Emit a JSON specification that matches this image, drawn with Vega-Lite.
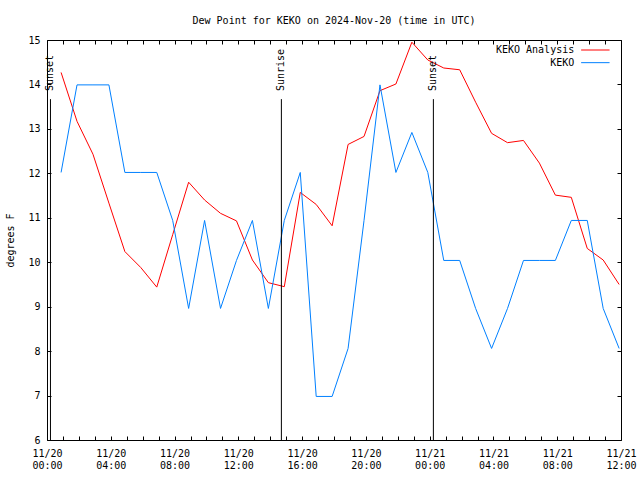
{
  "$schema": "https://vega.github.io/schema/vega-lite/v6.json",
  "width": 574,
  "height": 400,
  "autosize": {"type": "none"},
  "padding": {"left": 47, "top": 40, "right": 19, "bottom": 40},
  "background": "white",
  "title": {"text": "Dew Point for KEKO on 2024-Nov-20 (time in UTC)", "fontSize": 10, "fontWeight": "normal", "font": "DejaVu Sans Mono", "anchor": "middle", "offset": 9, "color": "black"},
  "config": {
    "font": "DejaVu Sans Mono",
    "view": {"stroke": "black", "strokeWidth": 1},
    "axis": {"grid": false, "domain": false, "labelFont": "DejaVu Sans Mono", "labelFontSize": 10, "labelColor": "black", "titleFont": "DejaVu Sans Mono", "titleFontSize": 10, "titleFontWeight": "normal", "titleColor": "black", "tickColor": "black", "tickWidth": 1, "tickOpacity": 1}
  },
  "datasets": {
    "analysis": [
      {"t": "2024-11-20T00:53:00Z", "v": 14.27},
      {"t": "2024-11-20T01:53:00Z", "v": 13.17},
      {"t": "2024-11-20T02:53:00Z", "v": 12.43},
      {"t": "2024-11-20T03:53:00Z", "v": 11.33},
      {"t": "2024-11-20T04:53:00Z", "v": 10.24},
      {"t": "2024-11-20T05:53:00Z", "v": 9.88},
      {"t": "2024-11-20T06:53:00Z", "v": 9.44},
      {"t": "2024-11-20T07:53:00Z", "v": 10.62},
      {"t": "2024-11-20T08:53:00Z", "v": 11.8},
      {"t": "2024-11-20T09:53:00Z", "v": 11.4},
      {"t": "2024-11-20T10:53:00Z", "v": 11.1},
      {"t": "2024-11-20T11:53:00Z", "v": 10.93},
      {"t": "2024-11-20T12:53:00Z", "v": 10.05},
      {"t": "2024-11-20T13:53:00Z", "v": 9.54},
      {"t": "2024-11-20T14:53:00Z", "v": 9.45},
      {"t": "2024-11-20T15:53:00Z", "v": 11.57},
      {"t": "2024-11-20T16:53:00Z", "v": 11.3},
      {"t": "2024-11-20T17:53:00Z", "v": 10.82},
      {"t": "2024-11-20T18:53:00Z", "v": 12.65},
      {"t": "2024-11-20T19:53:00Z", "v": 12.83},
      {"t": "2024-11-20T20:53:00Z", "v": 13.86},
      {"t": "2024-11-20T21:53:00Z", "v": 14.01},
      {"t": "2024-11-20T22:53:00Z", "v": 14.95},
      {"t": "2024-11-20T23:53:00Z", "v": 14.55},
      {"t": "2024-11-21T00:53:00Z", "v": 14.37},
      {"t": "2024-11-21T01:53:00Z", "v": 14.33},
      {"t": "2024-11-21T02:53:00Z", "v": 13.6},
      {"t": "2024-11-21T03:53:00Z", "v": 12.9},
      {"t": "2024-11-21T04:53:00Z", "v": 12.69},
      {"t": "2024-11-21T05:53:00Z", "v": 12.74},
      {"t": "2024-11-21T06:53:00Z", "v": 12.23},
      {"t": "2024-11-21T07:53:00Z", "v": 11.51},
      {"t": "2024-11-21T08:53:00Z", "v": 11.46},
      {"t": "2024-11-21T09:53:00Z", "v": 10.31},
      {"t": "2024-11-21T10:53:00Z", "v": 10.05},
      {"t": "2024-11-21T11:53:00Z", "v": 9.5}
    ],
    "keko": [
      {"t": "2024-11-20T00:53:00Z", "v": 12.02},
      {"t": "2024-11-20T01:53:00Z", "v": 13.99},
      {"t": "2024-11-20T02:53:00Z", "v": 13.99},
      {"t": "2024-11-20T03:53:00Z", "v": 13.99},
      {"t": "2024-11-20T04:53:00Z", "v": 12.02},
      {"t": "2024-11-20T05:53:00Z", "v": 12.02},
      {"t": "2024-11-20T06:53:00Z", "v": 12.02},
      {"t": "2024-11-20T07:53:00Z", "v": 10.94},
      {"t": "2024-11-20T08:53:00Z", "v": 8.96},
      {"t": "2024-11-20T09:53:00Z", "v": 10.94},
      {"t": "2024-11-20T10:53:00Z", "v": 8.96},
      {"t": "2024-11-20T11:53:00Z", "v": 10.04},
      {"t": "2024-11-20T12:53:00Z", "v": 10.94},
      {"t": "2024-11-20T13:53:00Z", "v": 8.96},
      {"t": "2024-11-20T14:53:00Z", "v": 10.94},
      {"t": "2024-11-20T15:53:00Z", "v": 12.02},
      {"t": "2024-11-20T16:53:00Z", "v": 6.98},
      {"t": "2024-11-20T17:53:00Z", "v": 6.98},
      {"t": "2024-11-20T18:53:00Z", "v": 8.06},
      {"t": "2024-11-20T19:53:00Z", "v": 10.94},
      {"t": "2024-11-20T20:53:00Z", "v": 13.99},
      {"t": "2024-11-20T21:53:00Z", "v": 12.02},
      {"t": "2024-11-20T22:53:00Z", "v": 12.92},
      {"t": "2024-11-20T23:53:00Z", "v": 12.02},
      {"t": "2024-11-21T00:53:00Z", "v": 10.04},
      {"t": "2024-11-21T01:53:00Z", "v": 10.04},
      {"t": "2024-11-21T02:53:00Z", "v": 8.96},
      {"t": "2024-11-21T03:53:00Z", "v": 8.06},
      {"t": "2024-11-21T04:53:00Z", "v": 8.96},
      {"t": "2024-11-21T05:53:00Z", "v": 10.04},
      {"t": "2024-11-21T06:53:00Z", "v": 10.04},
      {"t": "2024-11-21T07:53:00Z", "v": 10.04},
      {"t": "2024-11-21T08:53:00Z", "v": 10.94},
      {"t": "2024-11-21T09:53:00Z", "v": 10.94},
      {"t": "2024-11-21T10:53:00Z", "v": 8.96},
      {"t": "2024-11-21T11:53:00Z", "v": 8.06}
    ],
    "sun": [
      {"t": "2024-11-20T00:13:00Z", "label": "Sunset"},
      {"t": "2024-11-20T14:42:00Z", "label": "Sunrise"},
      {"t": "2024-11-21T00:14:00Z", "label": "Sunset"}
    ],
    "legend": [
      {"series": "KEKO Analysis"}
    ],
    "legend2": [
      {"series": "KEKO"}
    ]
  },
  "resolve": {"axis": {"x": "independent", "y": "independent"}},
  "layer": [
    {
      "data": {"name": "analysis"},
      "mark": {"type": "line", "color": "#ff0000", "strokeWidth": 1},
      "encoding": {
        "x": {"field": "t", "type": "temporal",
          "scale": {"type": "utc", "nice": false, "domain": [1732060800000, 1732190400000]},
          "axis": {"orient": "bottom", "ticks": true, "tickSize": -4, "title": null, "values": [1732060800000, 1732064400000, 1732068000000, 1732071600000, 1732075200000, 1732078800000, 1732082400000, 1732086000000, 1732089600000, 1732093200000, 1732096800000, 1732100400000, 1732104000000, 1732107600000, 1732111200000, 1732114800000, 1732118400000, 1732122000000, 1732125600000, 1732129200000, 1732132800000, 1732136400000, 1732140000000, 1732143600000, 1732147200000, 1732150800000, 1732154400000, 1732158000000, 1732161600000, 1732165200000, 1732168800000, 1732172400000, 1732176000000, 1732179600000, 1732183200000, 1732186800000, 1732190400000], "labelExpr": "utchours(datum.value) % 4 == 0 ? [utcFormat(datum.value, '%m/%d'), utcFormat(datum.value, '%H:%M')] : ''", "labelPadding": 12, "labelLineHeight": 12.5, "labelFlush": false, "labelOverlap": false}},
        "y": {"field": "v", "type": "quantitative",
          "scale": {"domain": [6, 15], "nice": false, "zero": false},
          "axis": {"orient": "left", "ticks": true, "tickSize": -4, "values": [6, 7, 8, 9, 10, 11, 12, 13, 14, 15], "labelPadding": 11, "title": "degrees F", "titlePadding": 12}}
      }
    },
    {
      "data": {"name": "keko"},
      "mark": {"type": "line", "color": "#0080ff", "strokeWidth": 1},
      "encoding": {
        "x": {"field": "t", "type": "temporal",
          "axis": {"orient": "top", "labels": false, "ticks": true, "title": null, "tickSize": -4, "values": [1732060800000, 1732064400000, 1732068000000, 1732071600000, 1732075200000, 1732078800000, 1732082400000, 1732086000000, 1732089600000, 1732093200000, 1732096800000, 1732100400000, 1732104000000, 1732107600000, 1732111200000, 1732114800000, 1732118400000, 1732122000000, 1732125600000, 1732129200000, 1732132800000, 1732136400000, 1732140000000, 1732143600000, 1732147200000, 1732150800000, 1732154400000, 1732158000000, 1732161600000, 1732165200000, 1732168800000, 1732172400000, 1732176000000, 1732179600000, 1732183200000, 1732186800000, 1732190400000]}},
        "y": {"field": "v", "type": "quantitative",
          "axis": {"orient": "right", "labels": false, "ticks": true, "title": null, "tickSize": -4, "values": [6, 7, 8, 9, 10, 11, 12, 13, 14, 15]}}
      }
    },
    {
      "data": {"name": "sun"},
      "mark": {"type": "rule", "color": "black", "strokeWidth": 1},
      "encoding": {
        "x": {"field": "t", "type": "temporal", "axis": null},
        "y": {"datum": 6, "axis": null},
        "y2": {"datum": 13.67}
      }
    },
    {
      "data": {"name": "sun"},
      "mark": {"type": "text", "angle": 270, "align": "left", "baseline": "middle", "fontSize": 10, "font": "DejaVu Sans Mono", "color": "black"},
      "encoding": {
        "x": {"field": "t", "type": "temporal", "axis": null},
        "y": {"datum": 13.85, "axis": null},
        "text": {"field": "label"}
      }
    },
    {
      "data": {"name": "legend"},
      "mark": {"type": "text", "align": "right", "baseline": "middle", "fontSize": 10, "font": "DejaVu Sans Mono", "color": "black"},
      "encoding": {
        "x": {"datum": {"year": 2024, "month": 11, "date": 21, "hours": 9, "minutes": 4, "utc": true}, "type": "temporal", "axis": null},
        "y": {"datum": 14.775, "axis": null},
        "text": {"field": "series"}
      }
    },
    {
      "data": {"name": "legend2"},
      "mark": {"type": "text", "align": "right", "baseline": "middle", "fontSize": 10, "font": "DejaVu Sans Mono", "color": "black"},
      "encoding": {
        "x": {"datum": {"year": 2024, "month": 11, "date": 21, "hours": 9, "minutes": 4, "utc": true}, "type": "temporal", "axis": null},
        "y": {"datum": 14.49, "axis": null},
        "text": {"field": "series"}
      }
    },
    {
      "data": {"name": "legend"},
      "mark": {"type": "rule", "color": "#ff0000", "strokeWidth": 1},
      "encoding": {
        "x": {"datum": {"year": 2024, "month": 11, "date": 21, "hours": 9, "minutes": 30, "utc": true}, "type": "temporal", "axis": null},
        "x2": {"datum": {"year": 2024, "month": 11, "date": 21, "hours": 11, "minutes": 17, "utc": true}},
        "y": {"datum": 14.775, "axis": null}
      }
    },
    {
      "data": {"name": "legend2"},
      "mark": {"type": "rule", "color": "#0080ff", "strokeWidth": 1},
      "encoding": {
        "x": {"datum": {"year": 2024, "month": 11, "date": 21, "hours": 9, "minutes": 30, "utc": true}, "type": "temporal", "axis": null},
        "x2": {"datum": {"year": 2024, "month": 11, "date": 21, "hours": 11, "minutes": 17, "utc": true}},
        "y": {"datum": 14.49, "axis": null}
      }
    }
  ]
}
